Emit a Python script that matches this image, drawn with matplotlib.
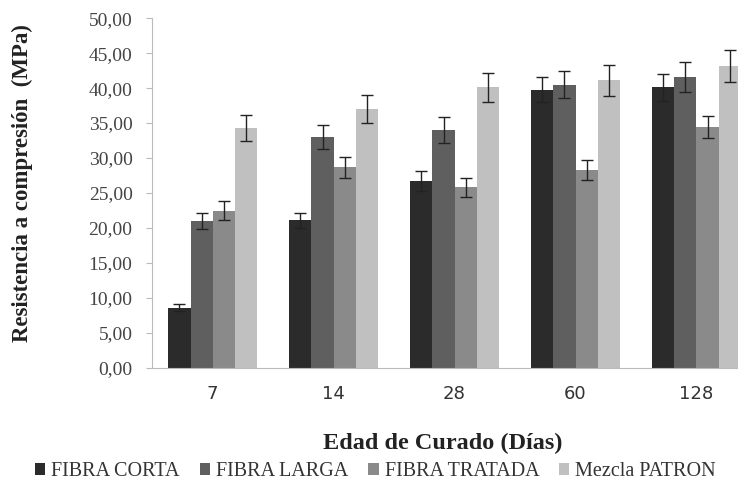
import matplotlib
matplotlib.use("Agg")
import matplotlib.pyplot as plt
import numpy as np
from matplotlib.ticker import FuncFormatter

categories = ["7", "14", "28", "60", "128"]
series = ["FIBRA CORTA", "FIBRA LARGA", "FIBRA TRATADA", "Mezcla PATRON"]
fibra_corta = [8.6, 21.1, 26.7, 39.8, 40.1]
fibra_larga = [21.0, 33.0, 34.0, 40.5, 41.6]
fibra_tratada = [22.5, 28.7, 25.8, 28.3, 34.4]
mezcla_patron = [34.3, 37.0, 40.1, 41.1, 43.2]
err_corta = [0.5, 1.1, 1.4, 1.8, 1.9]
err_larga = [1.2, 1.7, 1.8, 1.9, 2.2]
err_tratada = [1.3, 1.5, 1.3, 1.4, 1.6]
err_patron = [1.8, 2.0, 2.1, 2.2, 2.3]

values = [fibra_corta, fibra_larga, fibra_tratada, mezcla_patron]
errors = [err_corta, err_larga, err_tratada, err_patron]
colors = ["#2b2b2b", "#5f5f5f", "#8a8a8a", "#c0c0c0"]

fig = plt.figure(figsize=(7.38, 4.90), dpi=100)
ax = fig.add_axes([0.206, 0.249, 0.794, 0.714])

x = np.arange(len(categories))
w = 0.182
for i, (vals, errs, c, name) in enumerate(zip(values, errors, colors, series)):
    pos = x + (i - 1.5) * w
    ax.bar(pos, vals, width=w, color=c, label=name, zorder=2)
    ax.errorbar(pos, vals, yerr=errs, fmt="none", ecolor="#222222",
                elinewidth=1.0, capsize=4, capthick=1.0, zorder=3)

ax.set_xlim(-0.5, 4.343)
ax.set_ylim(0, 50)
ax.set_yticks(np.arange(0, 50.1, 5))
ax.yaxis.set_major_formatter(FuncFormatter(lambda v, p: f"{v:.2f}".replace(".", ",")))
ax.set_xticks(x)
ax.set_xticklabels(categories, fontfamily="DejaVu Sans", fontsize=13, color="#333333")
for lab in ax.get_yticklabels():
    lab.set_fontfamily("Liberation Serif")
    lab.set_fontsize(14)
    lab.set_color("#444444")

for s in ["top", "right"]:
    ax.spines[s].set_visible(False)
ax.spines["left"].set_color("#bbbbbb")
ax.spines["bottom"].set_color("#bbbbbb")
ax.tick_params(axis="y", length=4, color="#bbbbbb", pad=10)
ax.tick_params(axis="x", length=0, pad=12)

fig.text(0.030, 0.626, "Resistencia a compresión  (MPa)", rotation=90,
         ha="center", va="center", fontfamily="Liberation Serif",
         fontweight="bold", fontsize=16.5, color="#222222")
fig.text(0.600, 0.096, "Edad de Curado (Días)", ha="center", va="center",
         fontfamily="Liberation Serif", fontweight="bold", fontsize=17.5, color="#222222")

leg = fig.legend(loc="center", bbox_to_anchor=(0.509, 0.037), ncol=4, frameon=False,
                 prop={"family": "Liberation Serif", "size": 14.5},
                 handlelength=0.5, handleheight=0.5, handletextpad=0.3,
                 columnspacing=1.0, borderpad=0, borderaxespad=0)
for t in leg.get_texts():
    t.set_color("#333333")

fig.savefig("out.png", dpi=100)
